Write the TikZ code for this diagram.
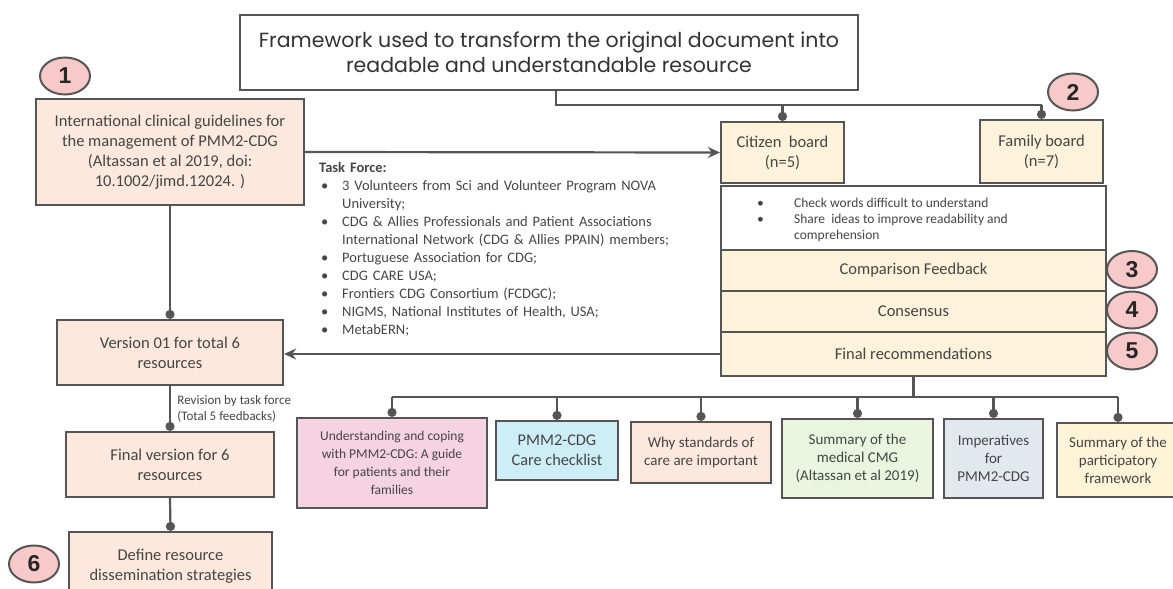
\documentclass[tikz,border=0pt]{standalone}
\usepackage{fontspec}
\setmainfont{Carlito}
\newfontfamily\titlefont{Poppins}
\newfontfamily\numfont{Liberation Sans}
\usetikzlibrary{arrows.meta,calc,positioning,shapes.geometric}
\definecolor{linec}{HTML}{555555}
\definecolor{textc}{HTML}{454545}
\definecolor{salmonc}{HTML}{FDE8DE}
\definecolor{creamc}{HTML}{FDF2DA}
\definecolor{pinkc}{HTML}{F5D3E0}
\definecolor{bluec}{HTML}{CDEDF7}
\definecolor{greenc}{HTML}{E9F5DF}
\definecolor{greyc}{HTML}{E3E8EE}
\definecolor{yellowc}{HTML}{FFF3D8}
\definecolor{numc}{HTML}{F8C9C9}
\newcommand{\tfitem}[1]{\par\hangindent=23pt\hangafter=1\noindent\makebox[23pt][l]{\hspace{2pt}\textbullet}#1}
\tikzset{pin/.style={draw=linec, line width=2.2pt, -{Stealth[length=12pt,width=11pt]}},
  tie/.style={draw=linec, line width=2.2pt, -{Circle[length=9pt]}},
  wire/.style={draw=linec, line width=2.2pt},
  box/.style={draw=linec, line width=2.2pt, align=center, text=textc, inner sep=2pt,
    font=\fontsize{16.5}{20}\selectfont},
  res/.style={box, font=\fontsize{15}{18}\selectfont},
  num/.style={ellipse, draw=linec, line width=2pt, fill=numc, minimum width=50, minimum height=37,
    inner sep=0pt, text=black!85, font=\numfont\bfseries\fontsize{23}{23}\selectfont}}

\begin{document}
\begin{tikzpicture}[x=1pt, y=-1pt]
  \useasboundingbox (0,0) rectangle (1173,589);
  \node[box, minimum width=618, minimum height=75, text=black!80,
    font=\titlefont\fontsize{20.5}{25}\selectfont] (title) at (549,52.5)
    {Framework used to transform the original document into\\readable and understandable resource};
  % left column
  \node[box, fill=salmonc, minimum width=268, minimum height=106] (guide) at (170,152)
    {International clinical guidelines for\\the management of PMM2-CDG\\(Altassan et al 2019, doi:\\10.1002/jimd.12024. )};
  \node[box, fill=salmonc, minimum width=226, minimum height=65] (version) at (170,352.5)
    {Version 01 for total 6\\resources};
  \node[box, fill=salmonc, minimum width=208, minimum height=65] (finalver) at (170,464.5)
    {Final version for 6\\resources};
  \node[box, fill=salmonc, minimum width=203, minimum height=68] (define) at (170.5,566)
    {Define resource\\dissemination strategies};
  % boards and the review stack
  \node[box, fill=creamc, minimum width=123, minimum height=61] (citizen) at (782.5,152.5)
    {Citizen\ \ board\\(n=5)};
  \node[box, fill=creamc, minimum width=123, minimum height=63] (family) at (1041.5,151.5)
    {Family board\\(n=7)};
  \node[box, fill=white, minimum width=385, minimum height=64] (check) at (913.5,218) {};
  \node[anchor=north west, align=left, inner sep=0pt, text=textc, font=\fontsize{13.5}{16}\selectfont]
    (checklist) at (757,198)
    {\makebox[37pt][l]{\textbullet}Check words difficult to understand\\
     \makebox[37pt][l]{\textbullet}Share\ \ ideas to improve readability and\\
     \hspace*{37pt}comprehension};
  \node[box, fill=creamc, minimum width=385, minimum height=41] (compare) at (913.5,270.5) {Comparison Feedback};
  \node[box, fill=creamc, minimum width=385, minimum height=41] (consensus) at (913.5,311.5) {Consensus};
  \node[box, fill=creamc, minimum width=385, minimum height=44] (finalrec) at (913.5,354) {Final recommendations};
  % task force list
  \node[anchor=north west, inner sep=0pt, text width=400, align=left, text=textc,
    font=\fontsize{14.5}{18}\selectfont] (taskforce) at (319,162)
    {\textbf{Task Force:}
     \tfitem{3 Volunteers from Sci and Volunteer Program NOVA\newline University;}
     \tfitem{CDG \& Allies Professionals and Patient Associations\newline International Network (CDG \& Allies PPAIN) members;}
     \tfitem{Portuguese Association for CDG;}
     \tfitem{CDG CARE USA;}
     \tfitem{Frontiers CDG Consortium (FCDGC);}
     \tfitem{NIGMS, National Institutes of Health, USA;}
     \tfitem{MetabERN;}};
  % resources
  \node[res, fill=pinkc, minimum width=190, minimum height=90, font=\fontsize{13.5}{18}\selectfont] (rguide) at (392,463)
    {Understanding and coping\\with PMM2-CDG: A guide\\for patients and their\\families};
  \node[res, fill=bluec, minimum width=122, minimum height=59, font=\fontsize{16.3}{20}\selectfont] (rcare) at (557,450.5)
    {PMM2-CDG\\Care checklist};
  \node[res, fill=salmonc, minimum width=140, minimum height=61] (rwhy) at (701,452.5)
    {Why standards of\\care are important};
  \node[res, fill=greenc, minimum width=151, minimum height=79] (rcmg) at (857.5,458.5)
    {Summary of the\\medical CMG\\(Altassan et al 2019)};
  \node[res, fill=greyc, minimum width=99, minimum height=79] (rimp) at (993.5,458.5)
    {Imperatives\\for\\PMM2-CDG};
  \node[res, fill=yellowc, minimum width=122, minimum height=74] (rframe) at (1118,460)
    {Summary of the\\participatory\\framework};
  % step numbers
  \node[num] (n1) at (65,76) {1};
  \node[num] (n2) at (1073,92) {2};
  \node[num] (n3) at (1132,269.5) {3};
  \node[num] (n4) at (1132,310) {4};
  \node[num] (n5) at (1132,351) {5};
  \node[num] (n6) at (34,564) {6};
  % connectors
  \draw[wire] ($(title.south)+(7,0)$) -- ++(0,14) coordinate (tj) -- (tj -| family.north);
  \draw[tie] (tj -| citizen.north) -- (citizen.north);
  \draw[tie] (tj -| family.north) -- (family.north);
  \draw[pin] (guide.east) -- (citizen.west);
  \draw[pin] (finalrec.west) -- (finalrec.west -| version.east);
  \draw[tie] (guide.south) -- (version.north);
  \draw[tie] (version.south) -- node[right, xshift=3pt, align=left, text=textc,
    font=\fontsize{13}{16}\selectfont] (revision) {Revision by task force\\(Total 5 feedbacks)} (finalver.north);
  \draw[tie] (finalver.south) -- (define.north);
  \draw[wire] (finalrec.south) -- ++(0,20) coordinate (bj);
  \draw[wire] (bj -| rguide.north) -- (bj -| rframe.north);
  \foreach \r in {rguide,rcare,rwhy,rcmg,rimp,rframe}
    \draw[tie] (bj -| \r.north) -- (\r.north);
\end{tikzpicture}
\end{document}
